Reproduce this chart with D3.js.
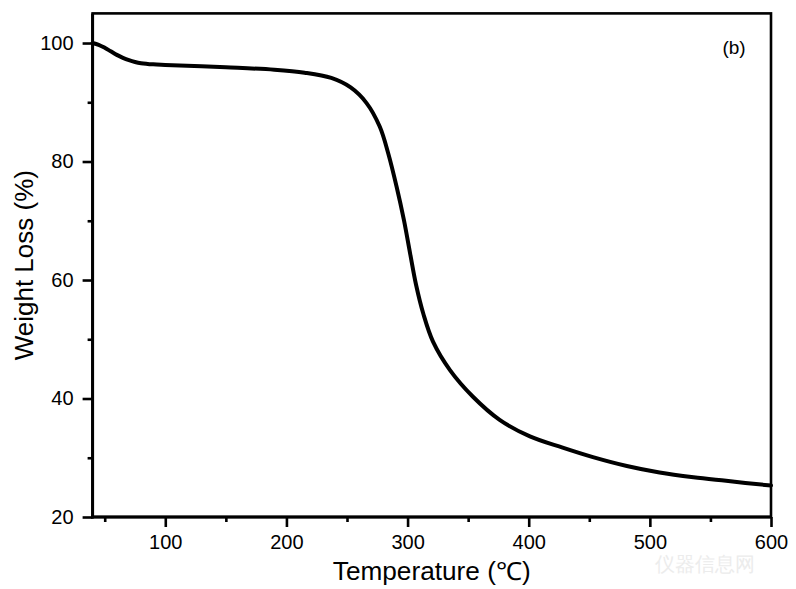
<!DOCTYPE html>
<html>
<head>
<meta charset="utf-8">
<script src="https://cdn.jsdelivr.net/npm/d3@7"></script>
<style>
  html, body { margin: 0; padding: 0; background: #fff; }
  svg { display: block; }
  text { font-family: Arial, "Liberation Sans", sans-serif; fill: #000; }
</style>
</head>
<body>
<svg id="chart" width="796" height="589"></svg>
<script>
// ---- data ----
const temperature = [40, 45, 50, 55, 60, 65, 70, 75, 80, 90, 100, 150, 190, 215, 237, 253, 266, 277, 284, 291, 297, 302, 307, 313, 321, 335, 354, 376, 401, 428, 453, 481, 508, 536, 563, 600];
const weight      = [100.0, 99.7, 99.2, 98.6, 98.0, 97.5, 97.1, 96.8, 96.6, 96.4, 96.3, 95.9, 95.5, 95.0, 94.1, 92.5, 89.9, 85.9, 81.4, 75.7, 70.1, 64.6, 59.2, 54.3, 49.6, 44.8, 40.3, 36.4, 33.6, 31.7, 30.1, 28.6, 27.5, 26.7, 26.1, 25.3];
const xMajorTicks = [100, 200, 300, 400, 500, 600];
const xMinorTicks = [50, 150, 250, 350, 450, 550];
const yMajorTicks = [20, 40, 60, 80, 100];
const yMinorTicks = [30, 50, 70, 90];
const xDomain = [40, 600];
const yDomain = [20, 105];
const xTitle = "Temperature (\u2103)";
const yTitle = "Weight Loss (%)";
const panelLabel = "(b)";

// ---- layout ----
const L = 92.6, R = 771, T = 13.4, B = 517;
const svg = d3.select("#chart");
const x = d3.scaleLinear().domain(xDomain).range([L, R]);
const y = d3.scaleLinear().domain(yDomain).range([B, T]);

// frame (top & right)
svg.append("rect")
  .attr("x", L).attr("y", T).attr("width", R - L).attr("height", B - T)
  .attr("fill", "none").attr("stroke", "#000").attr("stroke-width", 2.6);

// axes
const xAxis = d3.axisBottom(x).tickValues(xMajorTicks).tickSize(10).tickPadding(8).tickFormat(d3.format("d"));
const xMinor = d3.axisBottom(x).tickValues(xMinorTicks).tickSize(5).tickFormat("");
const yAxis = d3.axisLeft(y).tickValues(yMajorTicks).tickSize(10).tickPadding(9).tickFormat(d3.format("d"));
const yMinor = d3.axisLeft(y).tickValues(yMinorTicks).tickSize(5).tickFormat("");

function styleAxis(g) {
  g.select(".domain").remove();
  g.selectAll(".tick line").attr("stroke", "#000").attr("stroke-width", 2.6);
  g.selectAll(".tick text").attr("font-size", 20).attr("fill", "#000")
    .attr("font-family", "Arial, 'Liberation Sans', sans-serif");
}
svg.append("g").attr("transform", `translate(0,${B})`).call(xAxis).call(styleAxis);
svg.append("g").attr("transform", `translate(0,${B})`).call(xMinor).call(styleAxis);
svg.append("g").attr("transform", `translate(${L},0)`).call(yAxis).call(styleAxis);
svg.append("g").attr("transform", `translate(${L},0)`).call(yMinor).call(styleAxis);

// left & bottom axis lines slightly heavier
svg.append("line").attr("x1", L).attr("x2", L).attr("y1", T).attr("y2", B + 1.5)
  .attr("stroke", "#000").attr("stroke-width", 3);
svg.append("line").attr("x1", L - 1.5).attr("x2", R).attr("y1", B).attr("y2", B)
  .attr("stroke", "#000").attr("stroke-width", 3);

// curve
const data = temperature.map((t, i) => ({ t, w: weight[i] }));
const line = d3.line().x(d => x(d.t)).y(d => y(d.w)).curve(d3.curveCatmullRom.alpha(0.5));
svg.append("path").datum(data).attr("d", line)
  .attr("fill", "none").attr("stroke", "#000").attr("stroke-width", 4)
  .attr("stroke-linejoin", "round").attr("stroke-linecap", "round");

// titles
svg.append("text").attr("x", (L + R) / 2).attr("y", 580).attr("text-anchor", "middle")
  .attr("font-size", 25).attr("textLength", 198).attr("lengthAdjust", "spacingAndGlyphs").text(xTitle);
svg.append("text").attr("transform", `translate(33,${(T + B) / 2}) rotate(-90)`)
  .attr("text-anchor", "middle").attr("font-size", 26).text(yTitle);

// panel label
svg.append("text").attr("x", 734).attr("y", 54).attr("text-anchor", "middle")
  .attr("font-size", 19).text(panelLabel);

// faint watermark
svg.append("text").attr("x", 705).attr("y", 571).attr("text-anchor", "middle")
  .attr("font-family", "'Noto Sans CJK SC', sans-serif").attr("font-size", 20)
  .style("fill", "#ececec").text("仪器信息网");
</script>
</body>
</html>
